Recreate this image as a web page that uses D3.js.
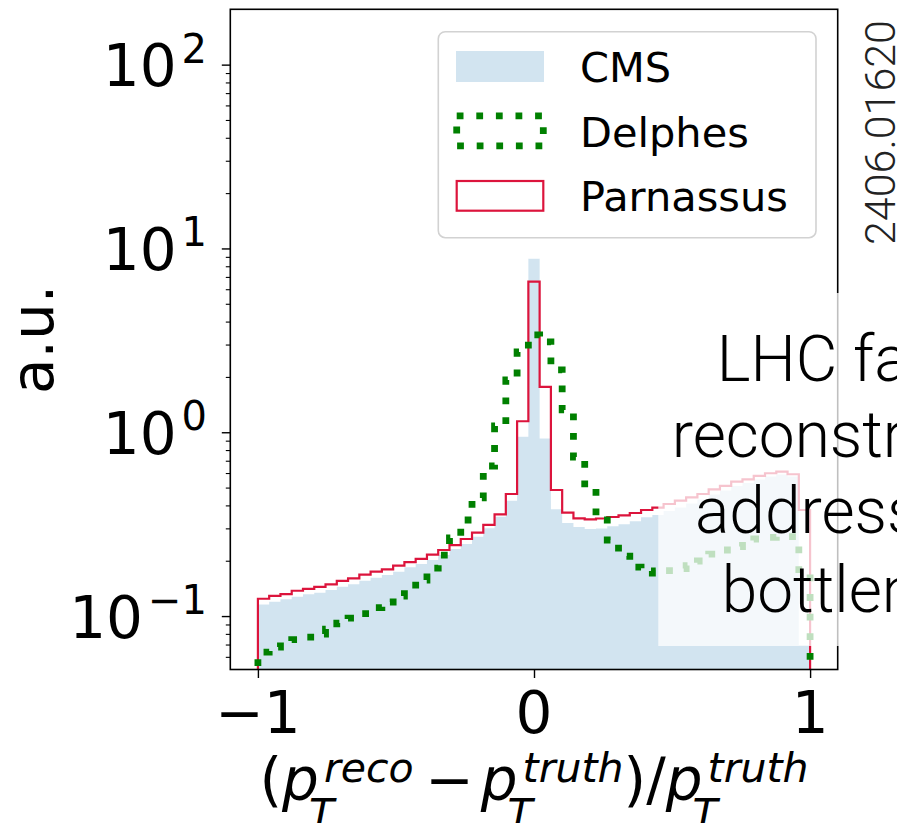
<!DOCTYPE html>
<html><head><meta charset="utf-8">
<script src="https://cdn.jsdelivr.net/npm/d3@7"></script>
<style>
html,body{margin:0;padding:0;background:#fff;overflow:hidden;}
svg{display:block;}
</style></head>
<body>
<svg id="chart" width="897" height="823"></svg>
<script>
// ---------------- data ----------------
const binLo = -1, binHi = 1, nBins = 49;
const cmsValues = [0.1155, 0.1196, 0.1233, 0.1274, 0.1313, 0.1339, 0.1385, 0.1444, 0.1488, 0.1556,
  0.1616, 0.1672, 0.1743, 0.1841, 0.1919, 0.2017, 0.2148, 0.2316, 0.2465, 0.2702,
  0.3002, 0.3471, 0.4238, 0.9463, 8.778, 0.9253, 0.3809, 0.3208, 0.3051, 0.2976,
  0.2994, 0.3082, 0.3160, 0.3282, 0.3446, 0.3546, 0.3729, 0.3896, 0.4097, 0.4308,
  0.4585, 0.4823, 0.5102, 0.5297, 0.5535, 0.5746, 0.5892, 0.5746, 0.0695];
const delphesValues = [0.0637, 0.0678, 0.0722, 0.0745, 0.0769, 0.0798, 0.0850, 0.0916, 0.0975, 0.1032,
  0.1112, 0.1192, 0.1285, 0.1403, 0.1570, 0.1825, 0.2148, 0.2658, 0.3331, 0.4390,
  0.6553, 1.082, 1.926, 2.736, 3.386, 3.101, 2.183, 1.322, 0.7336, 0.4975,
  0.3331, 0.2593, 0.2121, 0.1848, 0.1758, 0.1714, 0.1769, 0.1814, 0.1883, 0.1993,
  0.2175, 0.2287, 0.2389, 0.2527, 0.2625, 0.2682, 0.2702, 0.2702, 0.1714];
const parnassusValues = [0.1242, 0.1288, 0.1317, 0.1373, 0.1406, 0.1442, 0.1488, 0.1554, 0.1604, 0.1680,
  0.1746, 0.1795, 0.1883, 0.1963, 0.2048, 0.2161, 0.2287, 0.2429, 0.2625, 0.2841,
  0.3136, 0.3578, 0.4614, 1.148, 6.60, 1.764, 0.4852, 0.3650, 0.3403, 0.3361,
  0.3395, 0.3459, 0.3533, 0.3636, 0.3776, 0.3886, 0.4071, 0.4243, 0.4428, 0.4614,
  0.4895, 0.5102, 0.5384, 0.5548, 0.5783, 0.5982, 0.6103, 0.5908, 0.3776];
const xTickValues = [-1, 0, 1];
const xTickLabels = ["\u22121", "0", "1"];
const yTickValues = [0.1, 1, 10, 100];
const yTickExponents = ["\u22121", "0", "1", "2"];
const legendLabels = ["CMS", "Delphes", "Parnassus"];
const overlayLines = ["LHC fa", "reconstr", "address", "bottlen"];
const sideId = "2406.01620";

// ---------------- layout ----------------
const FONT = "'DejaVu Sans', sans-serif";
const svg = d3.select("#chart");
const P = {left: 230.3, right: 837.7, top: 9.3, bottom: 669.5};
const x = d3.scaleLinear().domain([-1.1, 1.1]).range([P.left, P.right]);
const yMin = 0.0512, yMax = 200;
const y = d3.scaleLog().domain([yMin, yMax]).range([P.bottom, P.top]);
const edges = d3.range(nBins + 1).map(i => binLo + i * (binHi - binLo) / nBins);

svg.append("defs").append("clipPath").attr("id", "plotclip")
  .append("rect").attr("x", P.left).attr("y", P.top)
  .attr("width", P.right - P.left).attr("height", P.bottom - P.top);

function steps(vals) {
  const pts = [];
  vals.forEach((v, i) => { pts.push([edges[i], v]); pts.push([edges[i + 1], v]); });
  return pts;
}
function closedSteps(vals) {
  return [[edges[0], yMin * 0.5]].concat(steps(vals), [[edges[nBins], yMin * 0.5]]);
}
const plot = svg.append("g").attr("clip-path", "url(#plotclip)");

const area = d3.area().x(d => x(d[0])).y0(y(yMin)).y1(d => y(d[1]));
plot.append("path").datum(steps(cmsValues)).attr("d", area)
  .attr("fill", "#1f77b4").attr("fill-opacity", 0.2);

const line = d3.line().x(d => x(d[0])).y(d => y(d[1]));
plot.append("path").datum(closedSteps(parnassusValues)).attr("d", line)
  .attr("fill", "none").attr("stroke", "#dc143c").attr("stroke-width", 2.2)
  .attr("stroke-linejoin", "miter");
plot.append("path").datum(closedSteps(delphesValues)).attr("d", line)
  .attr("fill", "none").attr("stroke", "#008000").attr("stroke-width", 6.8)
  .attr("stroke-dasharray", "6.8,12.8").attr("stroke-linecap", "butt");

// ---------------- axes ----------------
const xAxis = d3.axisBottom(x).tickValues(xTickValues).tickSize(8.5).tickFormat("");
const gx = svg.append("g").attr("transform", `translate(0,${P.bottom})`).call(xAxis);
gx.select(".domain").remove();
gx.selectAll("line").attr("stroke", "#000").attr("stroke-width", 1.4);
svg.append("g").selectAll("text").data(xTickValues).join("text")
  .attr("x", d => x(d)).attr("y", 733).attr("text-anchor", "middle")
  .attr("font-family", FONT).attr("font-size", 58).attr("fill", "#000")
  .text((d, i) => xTickLabels[i]);

const minorVals = [];
for (let e = -2; e <= 2; e++) for (let k = 2; k <= 9; k++) {
  const v = k * Math.pow(10, e);
  if (v > yMin && v < yMax * 0.98) minorVals.push(v);
}
const gyMinor = svg.append("g").attr("transform", `translate(${P.left},0)`)
  .call(d3.axisLeft(y).tickValues(minorVals).tickSize(4.5).tickFormat(""));
gyMinor.select(".domain").remove();
gyMinor.selectAll("line").attr("stroke", "#000").attr("stroke-width", 1.1);
const gy = svg.append("g").attr("transform", `translate(${P.left},0)`)
  .call(d3.axisLeft(y).tickValues(yTickValues).tickSize(8.5).tickFormat(""));
gy.select(".domain").remove();
gy.selectAll("line").attr("stroke", "#000").attr("stroke-width", 1.4);

const ylab = svg.append("g").selectAll("text").data(yTickValues).join("text")
  .attr("x", 207).attr("y", d => y(d) + 21.5).attr("text-anchor", "end")
  .attr("font-family", FONT).attr("font-size", 58).attr("fill", "#000");
ylab.append("tspan").text("10");
ylab.append("tspan").attr("dx", 5).attr("dy", -23.5).attr("font-size", 40)
  .text((d, i) => yTickExponents[i]);

// spines
svg.append("rect").attr("x", P.left).attr("y", P.top)
  .attr("width", P.right - P.left).attr("height", P.bottom - P.top)
  .attr("fill", "none").attr("stroke", "#000").attr("stroke-width", 1.6);

// y label
svg.append("text").attr("transform", `translate(53,${(P.top + P.bottom) / 2}) rotate(-90)`)
  .attr("text-anchor", "middle").attr("font-family", FONT).attr("font-size", 58)
  .attr("fill", "#000").text("a.u.");

// x label (math-like)
const S = 58, s = 41, base = 800;
const lab = svg.append("g").attr("font-family", FONT).attr("fill", "#000");
let cx = 0;
function put(str, size, italic, dx, dy) {
  const t = lab.append("text").attr("x", cx + dx).attr("y", dy)
    .attr("font-size", size).attr("font-style", italic ? "italic" : "normal").text(str);
  return t.node().getComputedTextLength();
}
function adv(str, size, italic) { cx += put(str, size, italic, 0, 0); }
function scripts(sup, sub) {
  const w1 = put(sup, s, true, 5, -18) + 5;
  const w2 = put(sub, s, true, -10, 28) - 10;
  cx += Math.max(w1, w2);
}
adv("(", S, false);
adv("p", S, true); scripts("reco", "T");
cx += 0.2 * S; adv("\u2212", S, false); cx += 0.12 * S;
adv("p", S, true); scripts("truth", "T");
adv(")", S, false); adv("/", S, false);
adv("p", S, true); scripts("truth", "T");
lab.attr("transform", `translate(${(P.left + P.right) / 2 - cx / 2},${base})`);

// ---------------- legend ----------------
const lg = svg.append("g");
lg.append("rect").attr("x", 438.3).attr("y", 31.7).attr("width", 377.7).attr("height", 206)
  .attr("rx", 7).attr("fill", "#fff").attr("fill-opacity", 0.8)
  .attr("stroke", "#d2d2d2").attr("stroke-width", 1.6);
lg.append("rect").attr("x", 456).attr("y", 51).attr("width", 88).attr("height", 31)
  .attr("fill", "#1f77b4").attr("fill-opacity", 0.2);
lg.append("rect").attr("x", 456.7).attr("y", 115.8).attr("width", 86.6).attr("height", 30)
  .attr("fill", "none").attr("stroke", "#008000").attr("stroke-width", 6.8)
  .attr("stroke-dasharray", "6.8,12.8");
lg.append("rect").attr("x", 456.7).attr("y", 181).attr("width", 86.6).attr("height", 29.7)
  .attr("fill", "none").attr("stroke", "#dc143c").attr("stroke-width", 2.2);
lg.selectAll("text.lt").data(legendLabels).join("text").attr("class", "lt")
  .attr("x", 580).attr("y", (d, i) => [82, 146.7, 210.7][i])
  .attr("font-family", FONT).attr("font-size", 41.5).attr("fill", "#000").text(d => d);

// ---------------- overlay ----------------
svg.append("rect").attr("x", 658.3).attr("y", 293).attr("width", 897 - 658.3).attr("height", 646 - 293)
  .attr("fill", "#fff").attr("fill-opacity", 0.75);
const ov = svg.append("g").attr("font-family", "Roboto, 'Liberation Sans', sans-serif")
  .attr("font-weight", 300).attr("font-size", 64).attr("fill", "#000");
const ovX = [716.7, 671.7, 695, 721.7], ovY = [380.7, 456.7, 533.3, 611.7];
ov.selectAll("text").data(overlayLines).join("text")
  .attr("x", (d, i) => ovX[i]).attr("y", (d, i) => ovY[i]).text(d => d);

svg.append("text").attr("transform", "translate(895,245) rotate(-90)")
  .attr("font-family", "Roboto, 'Liberation Sans', sans-serif").attr("font-weight", 300)
  .attr("font-size", 43).attr("fill", "#222").text(sideId);
</script>
</body></html>
